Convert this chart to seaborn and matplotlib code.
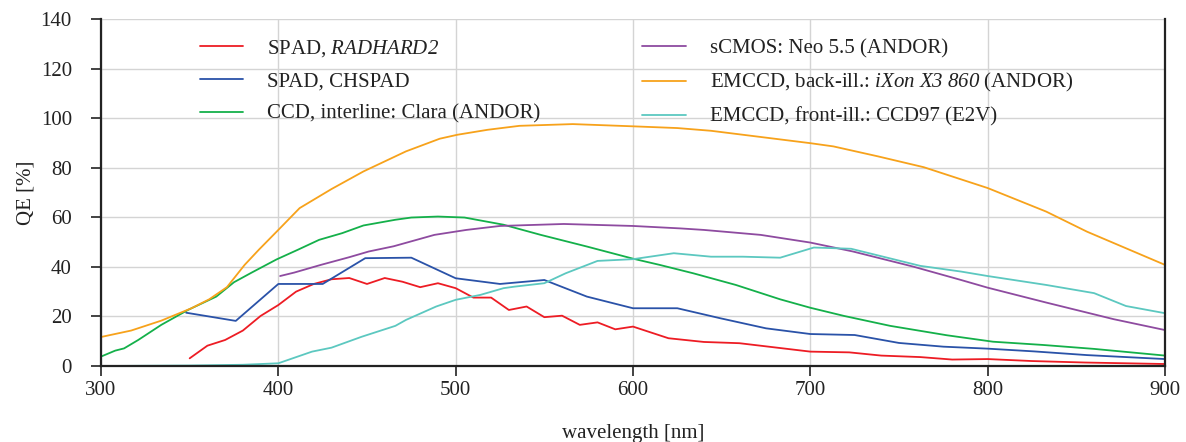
import matplotlib
matplotlib.use("Agg")
import matplotlib.pyplot as plt
import seaborn as sns
import pandas as pd

# ---- data ----
red_x = [350, 360, 370, 380, 390, 400, 410, 420, 430, 440, 450, 460, 470, 480, 490, 500, 510, 520, 530, 540,
         550, 560, 570, 580, 590, 600, 620, 640, 660, 700, 722, 740, 762, 780, 800, 825, 855, 900]
red_y = [3.1, 8.2, 10.5, 14.3, 20.2, 24.6, 30.0, 33.1, 35.0, 35.5, 33.1, 35.5, 34.0, 31.8, 33.4, 31.4, 27.6, 27.6,
         22.6, 24.0, 19.7, 20.3, 16.6, 17.6, 14.8, 15.9, 11.2, 9.7, 9.2, 5.8, 5.5, 4.2, 3.6, 2.6, 2.8, 2.0, 1.4, 0.8]

blue_x = [348, 376, 400, 425, 449, 475, 500, 525, 550, 574, 600, 625, 649, 675, 700, 725, 750, 775, 800, 826, 856, 900]
blue_y = [21.5, 18.2, 33.1, 33.1, 43.5, 43.7, 35.4, 33.1, 34.7, 28.0, 23.3, 23.3, 19.3, 15.2, 12.9, 12.5, 9.3, 7.8,
          7.0, 5.9, 4.4, 2.8]

green_x = [300, 308, 313, 321, 334, 349, 365, 375, 385, 399, 411, 423, 436, 448, 466, 475, 490, 505, 527, 548, 574,
           600, 615, 634, 658, 683, 700, 719, 745, 777, 803, 831, 860, 900]
green_y = [3.8, 6.2, 7.1, 10.5, 16.6, 22.6, 28.0, 33.8, 37.7, 43.0, 46.9, 50.9, 53.6, 56.7, 59.0, 59.9, 60.3, 59.9,
           57.0, 52.9, 48.2, 43.3, 40.8, 37.4, 32.7, 26.9, 23.5, 20.2, 16.2, 12.4, 9.8, 8.5, 6.9, 4.2]

purple_x = [401, 409, 424, 440, 451, 465, 488, 506, 525, 561, 600, 627, 640, 672, 700, 724, 758, 785, 800, 833, 871, 900]
purple_y = [36.3, 37.7, 40.8, 43.9, 46.2, 48.3, 52.9, 54.9, 56.5, 57.3, 56.5, 55.5, 54.9, 52.9, 49.8, 46.2, 40.1,
            34.7, 31.6, 25.6, 18.9, 14.5]

orange_x = [300, 317, 334, 351, 361, 371, 381, 389, 400, 412, 430, 448, 472, 491, 501, 518, 536, 566, 600, 625, 644,
            672, 700, 713, 738, 764, 800, 833, 856, 900]
orange_y = [11.7, 14.3, 18.3, 23.3, 26.9, 31.8, 40.8, 46.9, 54.9, 63.7, 71.4, 78.5, 86.6, 91.7, 93.3, 95.3, 96.9,
            97.6, 96.7, 96.0, 94.9, 92.4, 89.9, 88.6, 84.6, 80.2, 71.8, 62.3, 54.2, 40.8]

teal_x = [300, 350, 380, 400, 419, 430, 447, 466, 472, 489, 500, 514, 527, 533, 550, 562, 580, 600, 623, 644, 662,
          683, 702, 723, 762, 785, 800, 833, 860, 878, 900]
teal_y = [0.0, 0.2, 0.5, 1.1, 5.8, 7.4, 11.8, 16.2, 18.6, 24.0, 26.7, 28.7, 31.4, 32.0, 33.4, 37.4, 42.4, 43.1, 45.5,
          44.1, 44.1, 43.7, 47.8, 47.3, 40.4, 38.1, 36.3, 32.7, 29.4, 24.2, 21.3]

labels = [
    r"SPAD, $\mathsf{RADHARD2}$",
    "SPAD, CHSPAD",
    "CCD, interline: Clara (ANDOR)",
    "sCMOS: Neo 5.5 (ANDOR)",
    r"EMCCD, back-ill.: $\mathsf{iXon\ X3\ 860}$ (ANDOR)",
    "EMCCD, front-ill.: CCD97 (E2V)",
]
colors = ["#ed1c24", "#2a52a8", "#14b04a", "#8e4ba0", "#f7a21b", "#5cc8c0"]
xs = [red_x, blue_x, green_x, purple_x, orange_x, teal_x]
ys = [red_y, blue_y, green_y, purple_y, orange_y, teal_y]

frames = []
for lab, x, y in zip(labels, xs, ys):
    frames.append(pd.DataFrame({"wavelength": x, "QE": y, "series": lab}))
df = pd.concat(frames, ignore_index=True)

# ---- style ----
sns.set_theme(style="whitegrid")
plt.rcParams["font.family"] = ["Liberation Serif", "DejaVu Serif"]
plt.rcParams["mathtext.fontset"] = "custom"
plt.rcParams["mathtext.rm"] = "Liberation Serif"
plt.rcParams["mathtext.it"] = "Liberation Serif:italic"
plt.rcParams["mathtext.sf"] = "Liberation Serif:italic"

FS = 15
fig = plt.figure(figsize=(11.86, 4.42), dpi=100)
ax = fig.add_axes([101 / 1186, 1 - 366 / 442, (1165 - 101) / 1186, (366 - 19) / 442])

sns.lineplot(data=df, x="wavelength", y="QE", hue="series", hue_order=labels,
             palette=colors, sort=False, estimator=None, linewidth=1.3, ax=ax)

ax.set_xlim(300, 900)
ax.set_ylim(0, 140)
ax.set_xticks(range(300, 901, 100))
ax.set_yticks(range(0, 141, 20))
ax.grid(True, color="#d4d4d4", linewidth=1.0)
ax.set_axisbelow(True)
for s in ["left", "bottom", "right"]:
    ax.spines[s].set_visible(True)
    ax.spines[s].set_color("#222222")
    ax.spines[s].set_linewidth(1.6)
ax.spines["top"].set_visible(False)
ax.tick_params(axis="both", which="major", direction="out", length=7, width=1.2, color="#222222",
               labelsize=FS, labelcolor="#222222", left=True, bottom=True)
ax.tick_params(axis="x", pad=4)
ax.tick_params(axis="y", pad=14)
ax.set_xlabel("wavelength [nm]", fontsize=FS, color="#222222", labelpad=17)
ax.set_ylabel("QE [%]", fontsize=FS, color="#222222", labelpad=4)

leg = ax.legend(ncol=2, loc="upper left", bbox_to_anchor=(200 / 1186, 1 - 38 / 442),
                bbox_transform=fig.transFigure, frameon=False, fontsize=FS,
                handlelength=2.07, handletextpad=1.15, columnspacing=4.9, labelspacing=0.62,
                borderpad=0, borderaxespad=0)
for t in leg.get_texts():
    t.set_color("#222222")

fig.savefig("out.png", dpi=100)
